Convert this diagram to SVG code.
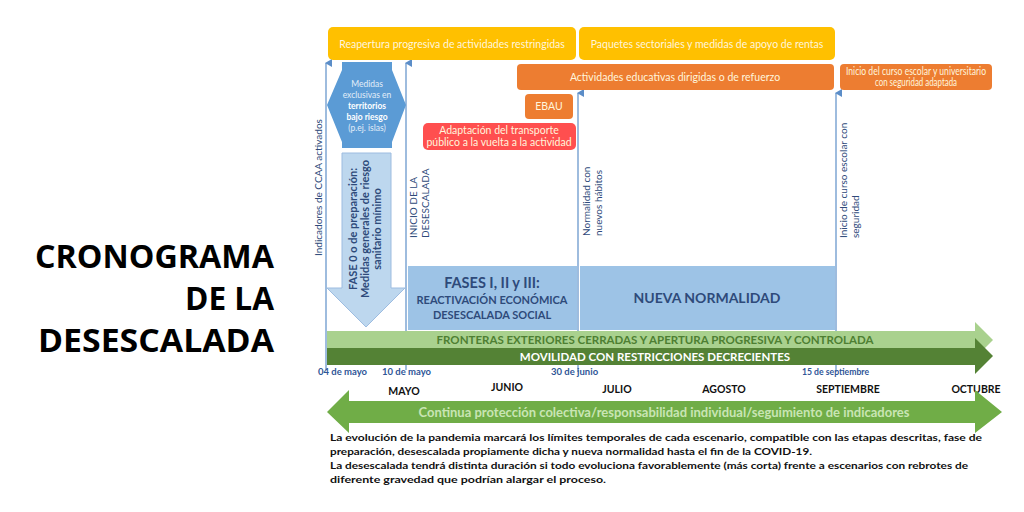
<svg xmlns="http://www.w3.org/2000/svg" width="1024" height="512" viewBox="0 0 1024 512">
<defs>
<marker id="ah" markerWidth="8" markerHeight="8" refX="4" refY="1" orient="auto-start-reverse" markerUnits="userSpaceOnUse" viewBox="0 0 8 8">
<path d="M0,7 L4,0 L8,7 Z" fill="#5B8DC8"/>
</marker>
<style>
text{font-family:Lato,"Liberation Sans",sans-serif}
.yb{fill:#FFC000}
.ob{fill:#ED7D31}
.wt{fill:#FFF5DC;font-size:10.5px;text-anchor:middle}
.vl{stroke:#6A98CC;stroke-width:1.3;fill:none}
.vt{fill:#2E4A7A;font-size:10px}
.nv{fill:#2E4A7A;font-weight:700;text-anchor:middle}
.dt{fill:#2F5597;font-size:9.5px;font-weight:700}
.mo{fill:#111;font-size:10.5px;font-weight:700;text-anchor:middle}
.pa{fill:#111;font-size:10px;font-weight:700}
.ti{font-family:"Open Sans","Liberation Sans",sans-serif;font-weight:700;font-size:32.5px;fill:#000;text-anchor:end}
</style>
</defs>
<rect width="1024" height="512" fill="#fff"/>

<g id="title">
<text class="ti" x="274" y="268" textLength="239" lengthAdjust="spacingAndGlyphs">CRONOGRAMA</text>
<text class="ti" x="274" y="310" textLength="89" lengthAdjust="spacingAndGlyphs">DE LA</text>
<text class="ti" x="274" y="352" textLength="236" lengthAdjust="spacingAndGlyphs">DESESCALADA</text>
</g>

<g id="connectors">
<line class="vl" x1="326" y1="63" x2="326" y2="370" marker-start="url(#ah)"/>
<line class="vl" x1="406" y1="63" x2="406" y2="370" marker-start="url(#ah)"/>
<line class="vl" x1="578" y1="93" x2="578" y2="372" marker-start="url(#ah)"/>
<line class="vl" x1="836" y1="93" x2="836" y2="372" marker-start="url(#ah)"/>
</g>

<g id="lbl-indicadores">
<text class="vt" transform="translate(322,256) rotate(-90)">Indicadores de CCAA activados</text>
</g>
<g id="lbl-inicio">
<text class="vt" font-size="9.5" transform="translate(417,238) rotate(-90)">INICIO DE LA</text>
<text class="vt" font-size="9.5" transform="translate(429,238) rotate(-90)">DESESCALADA</text>
</g>
<g id="lbl-normalidad">
<text class="vt" font-size="9.5" transform="translate(590,236) rotate(-90)">Normalidad con</text>
<text class="vt" font-size="9.5" transform="translate(602,236) rotate(-90)">nuevos hábitos</text>
</g>
<g id="lbl-curso">
<text class="vt" font-size="9.5" transform="translate(847,238) rotate(-90)">Inicio de curso escolar con</text>
<text class="vt" font-size="9.5" transform="translate(859,238) rotate(-90)">seguridad</text>
</g>

<g id="reapertura">
<rect class="yb" x="328" y="27" width="248" height="33" rx="5"/>
<text class="wt" x="452" y="48">Reapertura progresiva de actividades restringidas</text>
</g>
<g id="paquetes">
<rect class="yb" x="579" y="27" width="256" height="33" rx="5"/>
<text class="wt" x="707" y="48">Paquetes sectoriales y medidas de apoyo de rentas</text>
</g>
<g id="actividades">
<rect class="ob" x="517" y="64" width="317" height="26" rx="4"/>
<text class="wt" x="675" y="81">Actividades educativas dirigidas o de refuerzo</text>
</g>
<g id="inicio-curso">
<rect class="ob" x="840" y="64" width="152" height="26" rx="4"/>
<text class="wt" font-size="7.5" x="916" y="75" textLength="140" lengthAdjust="spacingAndGlyphs">Inicio del curso escolar y universitario</text>
<text class="wt" font-size="7.5" x="916" y="86" textLength="82" lengthAdjust="spacingAndGlyphs">con seguridad adaptada</text>
</g>
<g id="ebau">
<rect class="ob" x="525" y="94" width="48" height="25" rx="4"/>
<text class="wt" x="549" y="110">EBAU</text>
</g>
<g id="transporte">
<rect x="423" y="123" width="153" height="27" rx="5" fill="#FF4F4F"/>
<text class="wt" font-size="10" x="499" y="134">Adaptación del transporte</text>
<text class="wt" font-size="10" x="499" y="146">público a la vuelta a la actividad</text>
</g>

<g id="medidas-exclusivas">
<polygon points="342,62 392,62 392,70 406,105 392,142 392,148 342,148 342,142 327,105 342,70" fill="#5B9BD5"/>
<text fill="#E3EEF9" font-size="8.5" text-anchor="middle" x="367" y="87">Medidas</text>
<text fill="#E3EEF9" font-size="8.5" text-anchor="middle" x="367" y="98">exclusivas  en</text>
<text fill="#fff" font-size="8.5" font-weight="700" text-anchor="middle" x="367" y="109">territorios</text>
<text fill="#fff" font-size="8.5" font-weight="700" text-anchor="middle" x="367" y="120">bajo riesgo</text>
<text fill="#E3EEF9" font-size="8.5" text-anchor="middle" x="367" y="131">(p.ej. islas)</text>
</g>

<g id="fase0">
<polygon points="342,153 391,153 391,288 405,288 366,327 327,288 342,288" fill="#BDD7EE" stroke="#9DBCE0" stroke-width="1"/>
<text class="nv" font-size="11" transform="translate(357,229) rotate(-90)">FASE 0 o de preparación:</text>
<text class="nv" font-size="11" transform="translate(369,229) rotate(-90)">Medidas generales de riesgo</text>
<text class="nv" font-size="11" transform="translate(381,229) rotate(-90)">sanitario mínimo</text>
</g>

<g id="fases">
<rect x="408" y="266" width="169" height="64" fill="#9DC3E6"/>
<text class="nv" font-size="14.5" x="492" y="288">FASES I, II y III:</text>
<text class="nv" font-size="11" x="492" y="304">REACTIVACIÓN ECONÓMICA</text>
<text class="nv" font-size="11" x="492" y="319">DESESCALADA SOCIAL</text>
</g>
<g id="nueva-normalidad">
<rect x="580" y="266" width="255" height="64" fill="#9DC3E6"/>
<text class="nv" font-size="14" x="707" y="303">NUEVA NORMALIDAD</text>
</g>

<g id="fronteras">
<polygon points="327,331 975,331 975,322 993,340 975,358 975,348 327,348" fill="#A9D18E"/>
<text fill="#4E7F33" font-size="11.5" font-weight="700" text-anchor="middle" x="655" y="344">FRONTERAS EXTERIORES CERRADAS Y APERTURA PROGRESIVA Y CONTROLADA</text>
</g>
<g id="movilidad">
<polygon points="327,348 975,348 975,338 993,356 975,374 975,365 327,365" fill="#548235"/>
<text fill="#fff" font-size="11.5" font-weight="700" text-anchor="middle" x="655" y="361">MOVILIDAD CON RESTRICCIONES DECRECIENTES</text>
</g>

<g id="dates">
<text class="dt" x="318" y="375">04 de mayo</text>
<text class="dt" x="382" y="375">10 de mayo</text>
<text class="dt" x="551" y="375">30 de junio</text>
<text class="dt" x="802" y="375" textLength="67" lengthAdjust="spacingAndGlyphs">15 de septiembre</text>
</g>
<g id="months">
<text class="mo" x="404" y="395">MAYO</text>
<text class="mo" x="507" y="391">JUNIO</text>
<text class="mo" x="617" y="393">JULIO</text>
<text class="mo" x="724" y="393">AGOSTO</text>
<text class="mo" x="848" y="393">SEPTIEMBRE</text>
<text class="mo" x="976" y="393">OCTUBRE</text>
</g>

<g id="proteccion">
<polygon points="327,412 349,390 349,401 975,401 975,390 1002,412 975,433 975,423 349,423 349,433" fill="#70AD47"/>
<text fill="#C9E5B4" font-size="13" font-weight="700" text-anchor="middle" x="664" y="417">Continua protección colectiva/responsabilidad individual/seguimiento de indicadores</text>
</g>

<g id="nota">
<text class="pa" x="330" y="441" textLength="652" lengthAdjust="spacingAndGlyphs">La evolución de la pandemia marcará los límites temporales de cada escenario, compatible con las etapas descritas, fase de</text>
<text class="pa" x="330" y="455" textLength="482" lengthAdjust="spacingAndGlyphs">preparación, desescalada propiamente dicha y nueva normalidad hasta el fin de la COVID-19.</text>
<text class="pa" x="330" y="469" textLength="638" lengthAdjust="spacingAndGlyphs">La desescalada tendrá distinta duración si todo evoluciona favorablemente (más corta) frente a escenarios con rebrotes de</text>
<text class="pa" x="330" y="483" textLength="276" lengthAdjust="spacingAndGlyphs">diferente gravedad que podrían alargar el proceso.</text>
</g>
</svg>
